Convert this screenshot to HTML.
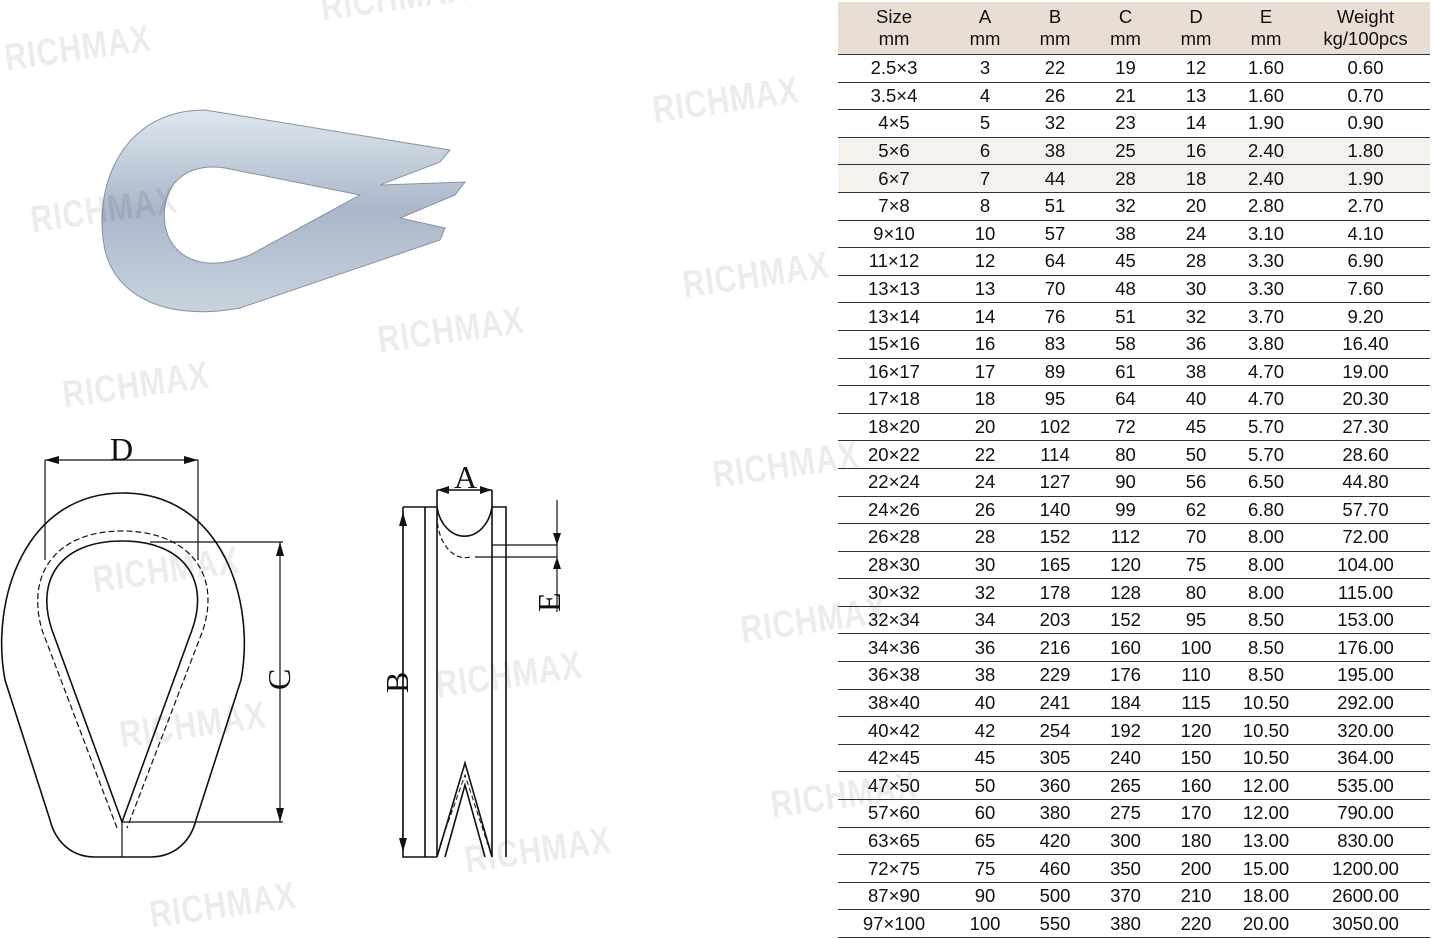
<!DOCTYPE html>
<html><head><meta charset="utf-8"><style>
body{margin:0;width:1432px;height:939px;background:#fff;position:relative;overflow:hidden;font-family:"Liberation Sans",sans-serif}
.wm{position:absolute;font-family:"Liberation Sans",sans-serif;font-weight:bold;font-size:38px;color:#000;opacity:0.07;transform:rotate(-8deg) scaleX(0.8);transform-origin:left top;letter-spacing:1px;white-space:nowrap}
table{position:absolute;left:838px;top:2px;width:592px;border-collapse:collapse;font-size:18.5px;color:#111}
td{text-align:center;height:26.6px;padding:0;border-bottom:1.2px solid #333;line-height:18px}
tr.h td{background:#e9ded3;height:52px;line-height:22px;font-size:18.5px}
tr.s td{background:#f5f1ec}
</style></head><body>
<svg width="1432" height="939" style="position:absolute;left:0;top:0">
<defs><linearGradient id="g" x1="0" y1="0" x2="0" y2="1"><stop offset="0" stop-color="#dfe6ef"/><stop offset="0.5" stop-color="#a9b7c9"/><stop offset="1" stop-color="#c9d3df"/></linearGradient></defs>
<path fill="url(#g)" stroke="#8793a4" stroke-width="1" fill-rule="evenodd" d="M105,250 C92,190 120,110 205,110 L450,150 L440,162 L380,185 L465,182 L455,195 L400,218 L445,228 L440,240 L240,308 C165,322 115,295 105,250 Z M165,225 C160,185 185,162 225,168 L360,195 L250,255 C200,275 170,255 165,225 Z"/>
<g fill="none" stroke="#111" stroke-width="1.6">
<path d="M122,857 L95,857 C70,857 55,840 50,820 L5,680 C-10,600 25,493 123,493 C221,493 256,600 241,680 L196,820 C191,840 176,857 150,857 Z"/>
<path d="M122,822 L52,630 C35,580 60,541 122,541 C184,541 210,580 192,630 Z"/>
<path d="M117,828 L42,630 C25,570 60,531 122,531 C185,531 222,570 203,630 L127,828" stroke-dasharray="6,3" stroke-width="1.2"/>
<path d="M122,822 V857 M122,822 H283 M150,542 H283 M280,542 V822 M45,460 V560 M198,460 V560 M45,460 H198" stroke-width="1.2"/>
<path d="M403,507 H437 M492,507 H506 V857 M403,507 V857 H437 M425,507 V857 M437,490 V857 M492,490 V857 M437,490 H492 M437,492 V507"/>
<path d="M437,507 A28,36 0 0 0 492,507"/>
<path d="M437,515 A28,42 0 0 0 470,557" stroke-dasharray="5,3" stroke-width="1.2"/>
<path d="M437,857 L465,763 L492,857 M445,857 L465,785 L485,857" />
<path d="M440,845 L465,775 L488,845" stroke-dasharray="5,3" stroke-width="1"/>
<path d="M492,545 H557 M475,557 H557 M557,500 V612 M403,512 V852" stroke-width="1.2"/>
</g>
<g fill="#111">
<path d="M45,460 l14,-4 v8z M198,460 l-14,-4 v8z M280,542 l-4,14 h8z M280,822 l-4,-14 h8z M403,512 l-4,14 h8z M403,852 l-4,-14 h8z M437,490 l12,-4 v8z M492,490 l-12,-4 v8z M557,545 l-4,-12 h8z M557,557 l4,12 h-8z"/>
</g>
<g font-family="Liberation Serif,serif" font-size="32" fill="#111">
<text x="110" y="460">D</text>
<text x="454" y="488">A</text>
<text transform="translate(290,690) rotate(-90)">C</text>
<text transform="translate(408,693) rotate(-90)">B</text>
<text transform="translate(560,612) rotate(-90)">E</text>
</g>
</svg>
<div class="wm" style="left:2px;top:38px">RICHMAX</div>
<div class="wm" style="left:318px;top:-12px">RICHMAX</div>
<div class="wm" style="left:650px;top:90px">RICHMAX</div>
<div class="wm" style="left:28px;top:200px">RICHMAX</div>
<div class="wm" style="left:680px;top:265px">RICHMAX</div>
<div class="wm" style="left:375px;top:320px">RICHMAX</div>
<div class="wm" style="left:60px;top:375px">RICHMAX</div>
<div class="wm" style="left:710px;top:455px">RICHMAX</div>
<div class="wm" style="left:90px;top:560px">RICHMAX</div>
<div class="wm" style="left:738px;top:610px">RICHMAX</div>
<div class="wm" style="left:433px;top:665px">RICHMAX</div>
<div class="wm" style="left:117px;top:715px">RICHMAX</div>
<div class="wm" style="left:768px;top:785px">RICHMAX</div>
<div class="wm" style="left:462px;top:840px">RICHMAX</div>
<div class="wm" style="left:147px;top:895px">RICHMAX</div>
<table>
<tr class="h"><td style="width:112px">Size<br>mm</td><td style="width:70px">A<br>mm</td><td style="width:70px">B<br>mm</td><td style="width:71px">C<br>mm</td><td style="width:70px">D<br>mm</td><td style="width:70px">E<br>mm</td><td>Weight<br>kg/100pcs</td></tr>
<tr><td>2.5×3</td><td>3</td><td>22</td><td>19</td><td>12</td><td>1.60</td><td>0.60</td></tr>
<tr><td>3.5×4</td><td>4</td><td>26</td><td>21</td><td>13</td><td>1.60</td><td>0.70</td></tr>
<tr><td>4×5</td><td>5</td><td>32</td><td>23</td><td>14</td><td>1.90</td><td>0.90</td></tr>
<tr class="s"><td>5×6</td><td>6</td><td>38</td><td>25</td><td>16</td><td>2.40</td><td>1.80</td></tr>
<tr class="s"><td>6×7</td><td>7</td><td>44</td><td>28</td><td>18</td><td>2.40</td><td>1.90</td></tr>
<tr><td>7×8</td><td>8</td><td>51</td><td>32</td><td>20</td><td>2.80</td><td>2.70</td></tr>
<tr><td>9×10</td><td>10</td><td>57</td><td>38</td><td>24</td><td>3.10</td><td>4.10</td></tr>
<tr><td>11×12</td><td>12</td><td>64</td><td>45</td><td>28</td><td>3.30</td><td>6.90</td></tr>
<tr><td>13×13</td><td>13</td><td>70</td><td>48</td><td>30</td><td>3.30</td><td>7.60</td></tr>
<tr><td>13×14</td><td>14</td><td>76</td><td>51</td><td>32</td><td>3.70</td><td>9.20</td></tr>
<tr><td>15×16</td><td>16</td><td>83</td><td>58</td><td>36</td><td>3.80</td><td>16.40</td></tr>
<tr><td>16×17</td><td>17</td><td>89</td><td>61</td><td>38</td><td>4.70</td><td>19.00</td></tr>
<tr><td>17×18</td><td>18</td><td>95</td><td>64</td><td>40</td><td>4.70</td><td>20.30</td></tr>
<tr><td>18×20</td><td>20</td><td>102</td><td>72</td><td>45</td><td>5.70</td><td>27.30</td></tr>
<tr><td>20×22</td><td>22</td><td>114</td><td>80</td><td>50</td><td>5.70</td><td>28.60</td></tr>
<tr><td>22×24</td><td>24</td><td>127</td><td>90</td><td>56</td><td>6.50</td><td>44.80</td></tr>
<tr><td>24×26</td><td>26</td><td>140</td><td>99</td><td>62</td><td>6.80</td><td>57.70</td></tr>
<tr><td>26×28</td><td>28</td><td>152</td><td>112</td><td>70</td><td>8.00</td><td>72.00</td></tr>
<tr><td>28×30</td><td>30</td><td>165</td><td>120</td><td>75</td><td>8.00</td><td>104.00</td></tr>
<tr><td>30×32</td><td>32</td><td>178</td><td>128</td><td>80</td><td>8.00</td><td>115.00</td></tr>
<tr><td>32×34</td><td>34</td><td>203</td><td>152</td><td>95</td><td>8.50</td><td>153.00</td></tr>
<tr><td>34×36</td><td>36</td><td>216</td><td>160</td><td>100</td><td>8.50</td><td>176.00</td></tr>
<tr><td>36×38</td><td>38</td><td>229</td><td>176</td><td>110</td><td>8.50</td><td>195.00</td></tr>
<tr><td>38×40</td><td>40</td><td>241</td><td>184</td><td>115</td><td>10.50</td><td>292.00</td></tr>
<tr><td>40×42</td><td>42</td><td>254</td><td>192</td><td>120</td><td>10.50</td><td>320.00</td></tr>
<tr><td>42×45</td><td>45</td><td>305</td><td>240</td><td>150</td><td>10.50</td><td>364.00</td></tr>
<tr><td>47×50</td><td>50</td><td>360</td><td>265</td><td>160</td><td>12.00</td><td>535.00</td></tr>
<tr><td>57×60</td><td>60</td><td>380</td><td>275</td><td>170</td><td>12.00</td><td>790.00</td></tr>
<tr><td>63×65</td><td>65</td><td>420</td><td>300</td><td>180</td><td>13.00</td><td>830.00</td></tr>
<tr><td>72×75</td><td>75</td><td>460</td><td>350</td><td>200</td><td>15.00</td><td>1200.00</td></tr>
<tr><td>87×90</td><td>90</td><td>500</td><td>370</td><td>210</td><td>18.00</td><td>2600.00</td></tr>
<tr><td>97×100</td><td>100</td><td>550</td><td>380</td><td>220</td><td>20.00</td><td>3050.00</td></tr>
</table>
</body></html>
